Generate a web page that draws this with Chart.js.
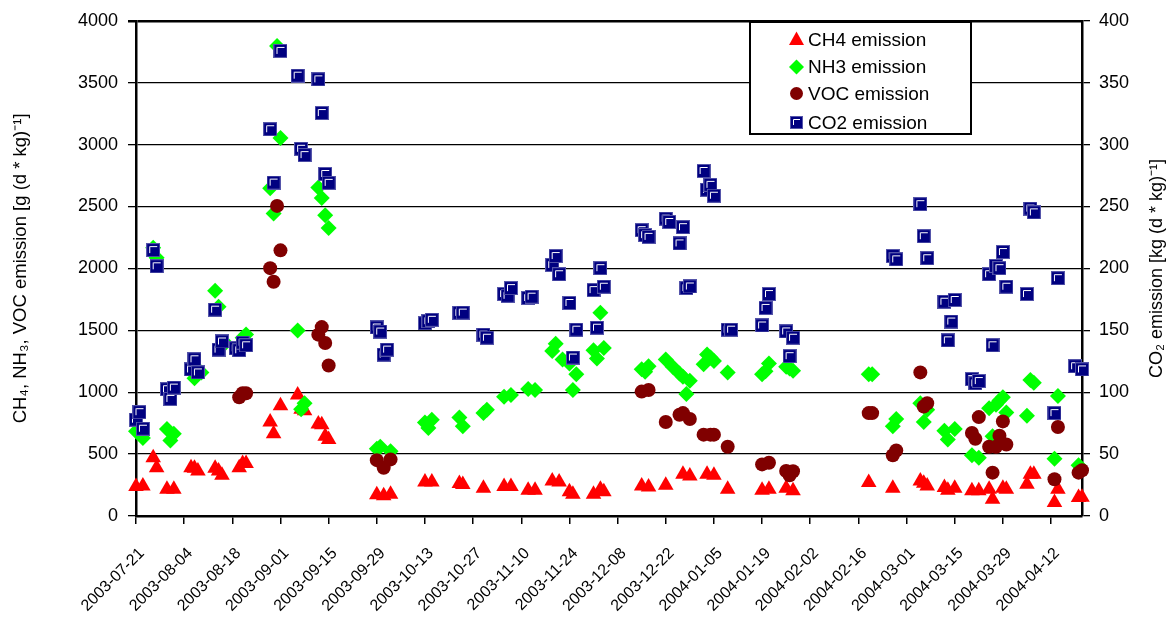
<!DOCTYPE html>
<html>
<head>
<meta charset="utf-8">
<script src="https://cdn.jsdelivr.net/npm/chart.js@4/dist/chart.umd.min.js"></script>
<style>
  html, body { margin: 0; padding: 0; background: #fff; }
</style>
</head>
<body>
<canvas id="chart" width="1174" height="625"></canvas>
<script>
// x values are days counted from 2003-07-21 (first tick label)
const tickLabels = [
  "2003-07-21", "2003-08-04", "2003-08-18", "2003-09-01", "2003-09-15",
  "2003-09-29", "2003-10-13", "2003-10-27", "2003-11-10", "2003-11-24",
  "2003-12-08", "2003-12-22", "2004-01-05", "2004-01-19", "2004-02-02",
  "2004-02-16", "2004-03-01", "2004-03-15", "2004-03-29", "2004-04-12"
];
const seriesNames = ["CH4 emission", "NH3 emission", "VOC emission", "CO2 emission"];

const ch4Days = [0, 2, 5, 6, 9, 11, 16, 17, 18, 23, 24, 25, 30, 31, 32, 39, 40, 42, 47, 48, 49,
  53, 54, 55, 56, 70, 72, 74, 84, 86, 94, 95, 101, 107, 109, 114, 116, 121, 123, 126, 127,
  133, 135, 136, 147, 149, 154, 159, 161, 166, 168, 172, 182, 184, 189, 191, 213, 220,
  228, 229, 230, 235, 236, 238, 243, 245, 248, 249, 252, 253, 259, 260, 261, 267, 268, 274, 275];
const ch4Values = [238, 243, 470, 390, 216, 216, 390, 385, 363, 385, 363, 329, 390, 425, 425,
  759, 665, 890, 978, 863, 850, 743, 737, 644, 617, 172, 163, 176, 275, 275, 262, 254, 224,
  238, 238, 208, 208, 283, 275, 195, 176, 176, 216, 195, 243, 235, 248, 337, 323, 337, 329,
  216, 208, 216, 224, 203, 270, 224, 283, 265, 243, 230, 208, 224, 203, 203, 216, 136, 224,
  216, 257, 337, 337, 110, 216, 150, 152];

const nh3Days = [0, 2, 5, 6, 9, 10, 11, 17, 19, 23, 24, 26, 31, 32, 39, 40, 41, 42, 47, 48, 49,
  53, 54, 55, 56, 70, 71, 74, 84, 85, 86, 94, 95, 101, 102, 107, 109, 114, 116, 121, 122, 124,
  126, 127, 128, 133, 134, 135, 136, 147, 148, 149, 154, 156, 158, 159, 160, 161, 165, 166,
  167, 168, 172, 182, 183, 184, 189, 190, 191, 213, 214, 220, 221, 228, 229, 230, 235, 236,
  238, 243, 245, 248, 249, 250, 251, 252, 253, 259, 260, 261, 267, 268, 274];
const nh3Values = [684, 631, 2167, 2087, 703, 609, 665, 1112, 1160, 1820, 1691, 1397, 1440,
  1467, 2648, 2443, 3797, 3054, 1499, 863, 911, 2653, 2568, 2429, 2327, 543, 559, 524, 756,
  711, 778, 796, 724, 831, 858, 964, 978, 1026, 1018, 1333, 1392, 1264, 1232, 1018, 1144,
  1339, 1272, 1641, 1357, 1186, 1165, 1210, 1264, 1205, 1152, 1125, 986, 1093, 1226, 1304,
  1280, 1253, 1160, 1144, 1170, 1232, 1205, 1192, 1173, 1144, 1144, 724, 783, 911, 759, 858,
  689, 617, 703, 491, 470, 871, 644, 898, 932, 959, 836, 810, 1098, 1077, 463, 970, 409];

const vocDays = [30, 31, 32, 39, 40, 41, 42, 53, 54, 55, 56, 70, 72, 74, 147, 149, 154, 158,
  159, 161, 165, 167, 168, 172, 182, 184, 189, 190, 191, 213, 214, 220, 221, 228, 229, 230,
  243, 244, 245, 248, 249, 250, 251, 252, 253, 267, 268, 274, 275];
const vocValues = [959, 992, 992, 2002, 1892, 2505, 2146, 1465, 1526, 1397, 1216, 451, 390,
  457, 1005, 1018, 759, 818, 831, 783, 657, 657, 657, 559, 417, 430, 363, 329, 361, 831, 831,
  491, 529, 1160, 884, 911, 671, 623, 799, 559, 350, 559, 649, 764, 577, 297, 719, 350, 369];

// CO2 is read on the right axis
const co2Days = [0, 1, 2, 5, 6, 9, 10, 11, 16, 17, 18, 23, 24, 25, 29, 30, 31, 32, 39, 40, 42,
  47, 48, 49, 53, 54, 55, 56, 70, 71, 72, 73, 84, 85, 86, 94, 95, 101, 102, 107, 108, 109,
  114, 115, 121, 122, 123, 126, 127, 128, 133, 134, 135, 136, 147, 148, 149, 154, 155, 158,
  159, 160, 161, 165, 166, 167, 168, 172, 173, 182, 183, 184, 189, 190, 191, 220, 221, 228,
  229, 230, 235, 236, 237, 238, 243, 244, 245, 248, 249, 250, 251, 252, 253, 259, 260, 261,
  267, 268, 273, 275];
const co2Values = [77.8, 83.9, 70.5, 214.8, 201.7, 102.4, 94.6, 103.7, 118.4, 126.6, 116,
  166.7, 134.4, 141, 135.5, 133.9, 140, 137.9, 312.4, 269.3, 375.7, 355.7, 296.6, 291.5,
  352.7, 325.5, 276.3, 269.1, 152.3, 149, 130.4, 134.4, 155.7, 157.4, 158.5, 164.1, 164.3,
  146.5, 144, 179.3, 177.9, 184.1, 176.1, 177.2, 202.8, 210, 195.3, 172.1, 128, 150.5, 182.5,
  152.1, 200.2, 185.2, 230.9, 226.9, 225.5, 240.2, 237.5, 220.2, 233.3, 184.1, 185.4, 278.7,
  263.5, 267.5, 258.7, 150.5, 150.5, 153.9, 168.1, 179.3, 149.1, 129.1, 144, 210, 207.3,
  251.9, 226, 208.2, 173.1, 141.9, 157.1, 174.5, 110.6, 107.2, 109, 195.3, 137.9, 202, 200.2,
  213.2, 185.2, 179.3, 248.3, 245.3, 83.1, 192.1, 121, 118.4];

const FONT = "Arial, 'Liberation Sans', sans-serif";

const pairs = (xs, ys) => xs.map((x, i) => ({ x: x, y: ys[i] }));

// navy square marker with the little white bevel line
function makeSquare(n) {
  const c = document.createElement("canvas");
  c.width = n;
  c.height = n;
  const g = c.getContext("2d");
  g.fillStyle = "#5555aa";
  g.fillRect(0, 0, n, n);
  g.fillStyle = "#000080";
  g.fillRect(1, 1, n - 2, n - 2);
  g.strokeStyle = "#ffffff";
  g.lineWidth = 1;
  g.beginPath();
  g.moveTo(3.5, n - 4);
  g.lineTo(3.5, 3.5);
  g.lineTo(n - 3, 3.5);
  g.stroke();
  return c;
}
const squareImg = makeSquare(14);
const legendSquare = makeSquare(13);

const overlay = {
  id: "overlay",
  afterDraw(chart) {
    const ctx = chart.ctx;
    ctx.save();
    ctx.fillStyle = "#000";
    ctx.font = "18px " + FONT;
    ctx.textAlign = "center";
    ctx.textBaseline = "middle";
    ctx.translate(chart.width - 17, (chart.chartArea.top + chart.chartArea.bottom) / 2);
    ctx.rotate(-Math.PI / 2);
    ctx.fillText("CO\u2082 emission [kg (d * kg)\u207B\u00B9]", 0, 0);
    ctx.restore();

    // legend box
    ctx.save();
    ctx.fillStyle = "#fff";
    ctx.fillRect(750, 22, 221, 112);
    ctx.lineWidth = 2;
    ctx.strokeStyle = "#000";
    ctx.strokeRect(750, 22, 221, 112);
    const rowY = [39.5, 67, 93.5, 122.5];
    const mx = 796.5;
    ctx.font = "19px " + FONT;
    ctx.textAlign = "left";
    ctx.textBaseline = "middle";
    seriesNames.forEach((name, i) => {
      const y = rowY[i];
      if (i === 0) {
        ctx.fillStyle = "#ff0000";
        ctx.beginPath();
        ctx.moveTo(mx, y - 8);
        ctx.lineTo(mx + 7.5, y + 5.5);
        ctx.lineTo(mx - 7.5, y + 5.5);
        ctx.closePath();
        ctx.fill();
      } else if (i === 1) {
        ctx.fillStyle = "#00ff00";
        ctx.beginPath();
        ctx.moveTo(mx, y - 7.5);
        ctx.lineTo(mx + 7.5, y);
        ctx.lineTo(mx, y + 7.5);
        ctx.lineTo(mx - 7.5, y);
        ctx.closePath();
        ctx.fill();
      } else if (i === 2) {
        ctx.fillStyle = "#800000";
        ctx.beginPath();
        ctx.arc(mx, y, 6.5, 0, Math.PI * 2);
        ctx.fill();
      } else {
        ctx.drawImage(legendSquare, mx - 6.5, y - 6.5);
      }
      ctx.fillStyle = "#000";
      ctx.fillText(name, 808, y + 1);
    });
    ctx.restore();
  }
};

new Chart(document.getElementById("chart"), {
  type: "scatter",
  data: {
    datasets: [
      {
        label: seriesNames[0],
        data: pairs(ch4Days, ch4Values),
        pointStyle: "triangle",
        pointRadius: 9,
        backgroundColor: "#ff0000",
        borderWidth: 0,
        order: 4,
        clip: false,
        yAxisID: "y"
      },
      {
        label: seriesNames[1],
        data: pairs(nh3Days, nh3Values),
        pointStyle: "rectRot",
        pointRadius: 8,
        backgroundColor: "#00ff00",
        borderWidth: 0,
        order: 3,
        clip: false,
        yAxisID: "y"
      },
      {
        label: seriesNames[2],
        data: pairs(vocDays, vocValues),
        pointStyle: "circle",
        pointRadius: 7,
        backgroundColor: "#800000",
        borderWidth: 0,
        order: 2,
        clip: false,
        yAxisID: "y"
      },
      {
        label: seriesNames[3],
        data: pairs(co2Days, co2Values),
        pointStyle: squareImg,
        pointRadius: 7,
        backgroundColor: "#000080",
        borderWidth: 0,
        order: 1,
        clip: false,
        yAxisID: "y1"
      }
    ]
  },
  options: {
    responsive: false,
    animation: false,
    events: [],
    layout: { padding: { top: 17, left: 0, right: 0, bottom: 0 } },
    plugins: {
      legend: { display: false },
      tooltip: { enabled: false }
    },
    scales: {
      x: {
        type: "linear",
        position: "bottom",
        min: 0,
        max: 275,
        afterBuildTicks: (s) => {
          s.ticks = tickLabels.map((_, i) => ({ value: i * 14 }));
        },
        afterFit: (s) => {
          s.height = 109;
        },
        ticks: {
          autoSkip: false,
          minRotation: 45,
          maxRotation: 45,
          padding: 20,
          labelOffset: 6,
          color: "#000",
          font: { family: FONT, size: 16 },
          callback: (v) => tickLabels[Math.round(v / 14)]
        },
        grid: { drawOnChartArea: false, drawTicks: true, tickLength: 8, color: "#000", lineWidth: 1.5 },
        border: { display: true, color: "#000", width: 2.5 }
      },
      y: {
        position: "left",
        min: 0,
        max: 4000,
        afterFit: (s) => {
          s.width = 136;
        },
        ticks: {
          stepSize: 500,
          padding: 10,
          color: "#000",
          font: { family: FONT, size: 18 },
          callback: (v) => String(v)
        },
        grid: {
          color: "#000",
          lineWidth: (c) => (c.tick && c.tick.value === 4000 ? 2.5 : 1.3),
          tickLength: 8
        },
        border: { display: true, color: "#000", width: 2.5 },
        title: {
          display: true,
          text: "CH\u2084, NH\u2083, VOC emission [g (d * kg)\u207B\u00B9]",
          color: "#000",
          font: { family: FONT, size: 18.5 },
          padding: { top: 10, bottom: 0 }
        }
      },
      y1: {
        position: "right",
        min: 0,
        max: 400,
        afterFit: (s) => {
          s.width = 92;
        },
        ticks: {
          stepSize: 50,
          padding: 9,
          color: "#000",
          font: { family: FONT, size: 18 },
          callback: (v) => String(v)
        },
        grid: { drawOnChartArea: false, color: "#000", lineWidth: 1.3, tickLength: 8 },
        border: { display: true, color: "#000", width: 2.5 }
      }
    }
  },
  plugins: [overlay]
});
</script>
</body>
</html>
